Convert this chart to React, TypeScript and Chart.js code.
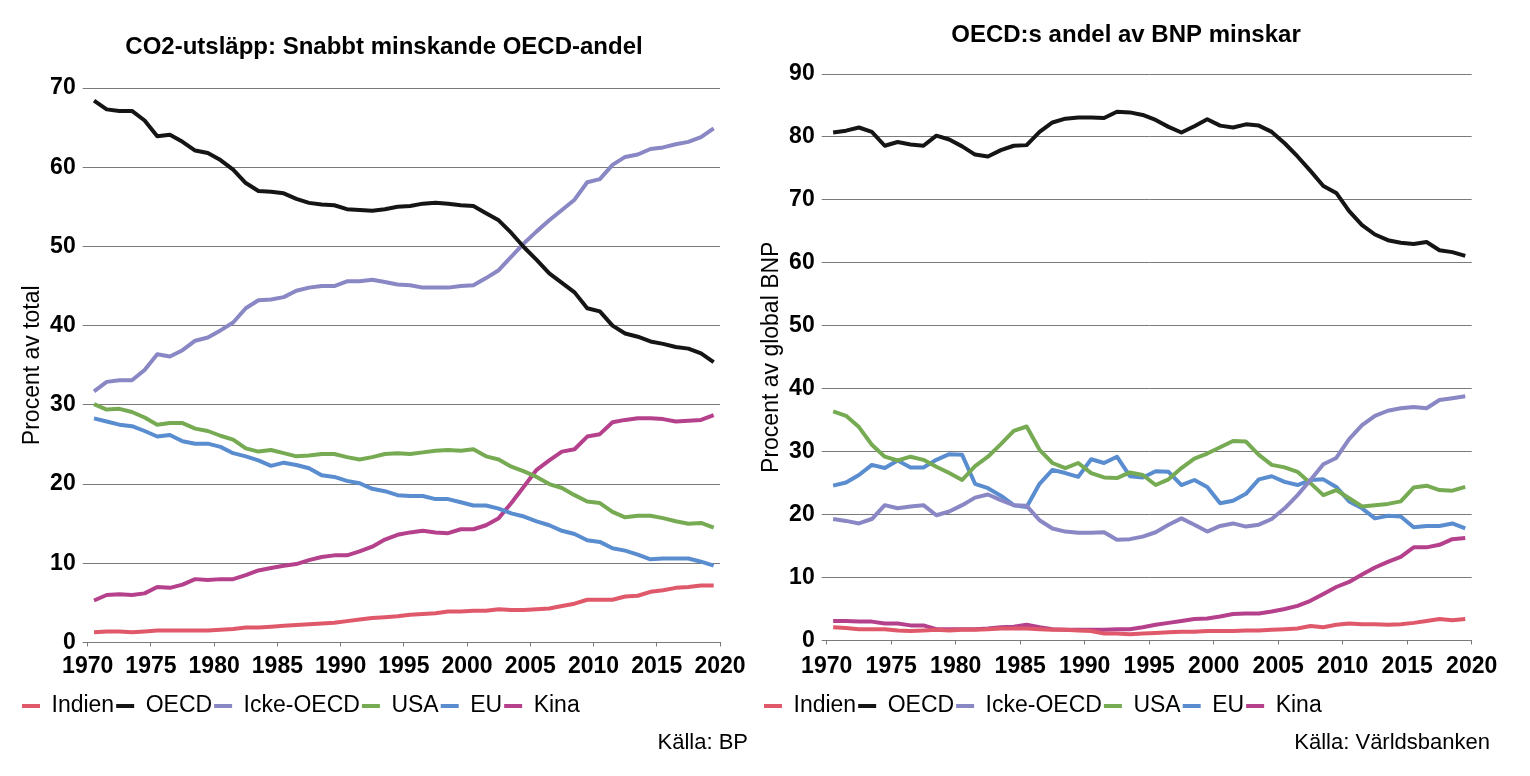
import React, { useEffect, useRef } from 'react';
import { Chart, registerables } from 'chart.js';

Chart.register(...registerables);

const years = [
  1970, 1971, 1972, 1973, 1974, 1975, 1976, 1977, 1978, 1979,
  1980, 1981, 1982, 1983, 1984, 1985, 1986, 1987, 1988, 1989,
  1990, 1991, 1992, 1993, 1994, 1995, 1996, 1997, 1998, 1999,
  2000, 2001, 2002, 2003, 2004, 2005, 2006, 2007, 2008, 2009,
  2010, 2011, 2012, 2013, 2014, 2015, 2016, 2017, 2018, 2019,
];

const seriesNames = ['Indien', 'OECD', 'Icke-OECD', 'USA', 'EU', 'Kina'];
const seriesColors = ['#e0596a', '#151515', '#8a87c5', '#77ab53', '#5a8dd0', '#b5408b'];

// CO2-utsläpp, andel av total (%)
const co2Indien = [1.3, 1.4, 1.4, 1.3, 1.4, 1.5, 1.5, 1.5, 1.5, 1.5, 1.6, 1.7, 1.9, 1.9, 2.0, 2.1, 2.2, 2.3, 2.4, 2.5, 2.7, 2.9, 3.1, 3.2, 3.3, 3.5, 3.6, 3.7, 3.9, 3.9, 4.0, 4.0, 4.2, 4.1, 4.1, 4.2, 4.3, 4.6, 4.9, 5.4, 5.4, 5.4, 5.8, 5.9, 6.4, 6.6, 6.9, 7.0, 7.2, 7.2];
const co2OECD = [68.4, 67.3, 67.1, 67.1, 65.9, 63.9, 64.1, 63.2, 62.1, 61.8, 60.9, 59.7, 58.0, 57.0, 56.9, 56.7, 56.0, 55.5, 55.3, 55.2, 54.7, 54.6, 54.5, 54.7, 55.0, 55.1, 55.4, 55.5, 55.4, 55.2, 55.1, 54.2, 53.3, 51.7, 49.9, 48.3, 46.6, 45.4, 44.2, 42.2, 41.8, 40.0, 39.0, 38.6, 38.0, 37.7, 37.3, 37.1, 36.5, 35.4];
const co2IckeOECD = [31.7, 32.9, 33.1, 33.1, 34.4, 36.4, 36.1, 36.9, 38.1, 38.5, 39.4, 40.4, 42.2, 43.2, 43.3, 43.6, 44.4, 44.8, 45.0, 45.0, 45.6, 45.6, 45.8, 45.5, 45.2, 45.1, 44.8, 44.8, 44.8, 45.0, 45.1, 46.0, 47.0, 48.7, 50.4, 51.9, 53.3, 54.6, 55.9, 58.1, 58.5, 60.3, 61.3, 61.6, 62.3, 62.5, 62.9, 63.2, 63.8, 64.9];
const co2USA = [30.1, 29.4, 29.5, 29.1, 28.4, 27.5, 27.7, 27.7, 27.0, 26.7, 26.1, 25.6, 24.5, 24.1, 24.3, 23.9, 23.5, 23.6, 23.8, 23.8, 23.4, 23.1, 23.4, 23.8, 23.9, 23.8, 24.0, 24.2, 24.3, 24.2, 24.4, 23.5, 23.1, 22.2, 21.6, 20.9, 20.0, 19.5, 18.6, 17.8, 17.6, 16.5, 15.8, 16.0, 16.0, 15.7, 15.3, 15.0, 15.1, 14.5];
const co2EU = [28.3, 27.9, 27.5, 27.3, 26.7, 26.0, 26.2, 25.4, 25.1, 25.1, 24.7, 23.9, 23.5, 23.0, 22.3, 22.7, 22.4, 22.0, 21.1, 20.9, 20.4, 20.1, 19.4, 19.1, 18.6, 18.5, 18.5, 18.1, 18.1, 17.7, 17.3, 17.3, 16.9, 16.3, 15.9, 15.3, 14.8, 14.1, 13.7, 12.9, 12.7, 11.9, 11.6, 11.1, 10.5, 10.6, 10.6, 10.6, 10.2, 9.7];
const co2Kina = [5.3, 6.0, 6.1, 6.0, 6.2, 7.0, 6.9, 7.3, 8.0, 7.9, 8.0, 8.0, 8.5, 9.1, 9.4, 9.7, 9.9, 10.4, 10.8, 11.0, 11.0, 11.5, 12.1, 13.0, 13.6, 13.9, 14.1, 13.9, 13.8, 14.3, 14.3, 14.8, 15.7, 17.6, 19.7, 21.8, 23.0, 24.1, 24.4, 26.0, 26.3, 27.8, 28.1, 28.3, 28.3, 28.2, 27.9, 28.0, 28.1, 28.7];

// Andel av global BNP (%)
const gdpIndien = [2.1, 2.0, 1.8, 1.8, 1.8, 1.6, 1.5, 1.6, 1.7, 1.6, 1.7, 1.7, 1.8, 1.9, 1.9, 1.9, 1.8, 1.7, 1.7, 1.6, 1.5, 1.1, 1.1, 1.0, 1.1, 1.2, 1.3, 1.4, 1.4, 1.5, 1.5, 1.5, 1.6, 1.6, 1.7, 1.8, 1.9, 2.3, 2.1, 2.5, 2.7, 2.6, 2.6, 2.5, 2.6, 2.8, 3.1, 3.4, 3.2, 3.4];
const gdpOECD = [80.7, 81.0, 81.5, 80.8, 78.6, 79.2, 78.8, 78.6, 80.2, 79.6, 78.5, 77.2, 76.9, 77.9, 78.6, 78.7, 80.8, 82.3, 82.9, 83.1, 83.1, 83.0, 84.0, 83.9, 83.5, 82.7, 81.6, 80.7, 81.7, 82.8, 81.8, 81.5, 82.0, 81.8, 80.8, 79.0, 76.9, 74.6, 72.2, 71.1, 68.2, 66.0, 64.5, 63.6, 63.2, 63.0, 63.3, 62.0, 61.7, 61.1];
const gdpIckeOECD = [19.3, 19.0, 18.6, 19.3, 21.5, 21.0, 21.3, 21.5, 19.9, 20.5, 21.5, 22.7, 23.2, 22.3, 21.5, 21.4, 19.1, 17.8, 17.3, 17.1, 17.1, 17.2, 16.0, 16.1, 16.5, 17.2, 18.4, 19.4, 18.4, 17.3, 18.2, 18.6, 18.1, 18.4, 19.3, 21.0, 23.1, 25.5, 28.0, 29.0, 32.0, 34.2, 35.7, 36.5, 36.9, 37.1, 36.9, 38.2, 38.5, 38.8];
const gdpUSA = [36.4, 35.7, 33.9, 31.1, 29.2, 28.6, 29.2, 28.7, 27.6, 26.6, 25.5, 27.7, 29.2, 31.2, 33.3, 34.0, 30.3, 28.2, 27.4, 28.2, 26.6, 25.9, 25.8, 26.7, 26.3, 24.7, 25.6, 27.4, 28.9, 29.7, 30.7, 31.7, 31.6, 29.5, 27.9, 27.5, 26.8, 25.0, 23.1, 23.9, 22.6, 21.3, 21.5, 21.7, 22.1, 24.3, 24.6, 23.9, 23.8, 24.4];
const gdpEU = [24.6, 25.1, 26.3, 27.9, 27.4, 28.6, 27.5, 27.5, 28.7, 29.6, 29.5, 24.9, 24.2, 23.0, 21.5, 21.2, 24.9, 27.1, 26.6, 26.0, 28.8, 28.2, 29.2, 26.1, 25.9, 26.9, 26.8, 24.7, 25.5, 24.4, 21.8, 22.2, 23.3, 25.6, 26.1, 25.2, 24.7, 25.5, 25.6, 24.4, 22.1, 21.0, 19.4, 19.8, 19.7, 18.0, 18.2, 18.2, 18.6, 17.8];
const gdpKina = [3.1, 3.1, 3.0, 3.0, 2.7, 2.7, 2.4, 2.4, 1.8, 1.8, 1.8, 1.8, 1.9, 2.1, 2.2, 2.5, 2.1, 1.8, 1.7, 1.7, 1.7, 1.7, 1.8, 1.8, 2.1, 2.5, 2.8, 3.1, 3.4, 3.5, 3.8, 4.2, 4.3, 4.3, 4.6, 5.0, 5.5, 6.3, 7.4, 8.5, 9.3, 10.5, 11.6, 12.5, 13.3, 14.8, 14.8, 15.2, 16.1, 16.3];

const FONT = "'Liberation Sans', Arial, Helvetica, sans-serif";
const GRID = '#7a7a7a';

type Spec = {
  title: string;
  yTitle: string;
  yMax: number;
  source: string;
  series: number[][];
  width: number;
  padLeft: number;
  padRight: number;
  yWidth: number;
  yTitlePad: number;
  xPadRight: number;
  titleTop: number;
  titleBottom: number;
  xHeight: number;
  xTickPad: number;
};

function makeConfig(s: Spec): any {
  const datasets = s.series.map((vals, i) => ({
    label: seriesNames[i],
    data: vals.map((v, j) => ({ x: years[j] + 0.5, y: v })),
    borderColor: seriesColors[i],
    backgroundColor: seriesColors[i],
    borderWidth: 4,
    pointRadius: 0,
    pointHoverRadius: 0,
    tension: 0,
    borderJoinStyle: 'round',
    borderCapStyle: 'butt',
    fill: false,
  }));
  return {
    type: 'line',
    data: { datasets },
    options: {
      responsive: false,
      animation: false,
      events: [],
      layout: { padding: { left: s.padLeft, right: s.padRight, top: 0, bottom: 0 } },
      plugins: {
        tooltip: { enabled: false },
        title: {
          display: true,
          text: s.title,
          color: '#000',
          font: { family: FONT, size: 24, weight: 'bold', lineHeight: 1.2 },
          padding: { top: s.titleTop, bottom: s.titleBottom },
        },
        subtitle: {
          display: true,
          text: s.source,
          position: 'bottom',
          align: 'end',
          color: '#000',
          font: { family: FONT, size: 22, weight: 'normal', lineHeight: 1.2 },
          padding: { top: 2.3, bottom: 19.8 },
        },
        legend: {
          display: true,
          position: 'bottom',
          align: 'start',
          labels: {
            usePointStyle: true,
            pointStyle: 'line',
            pointStyleWidth: 18,
            color: '#000',
            font: { family: FONT, size: 23, weight: 'normal' },
            padding: 2,
          },
        },
      },
      scales: {
        x: {
          type: 'linear',
          min: 1970,
          max: 2020,
          ticks: {
            stepSize: 5,
            autoSkip: false,
            maxRotation: 0,
            color: '#000',
            padding: s.xTickPad,
            font: { family: FONT, size: 23, weight: 'bold' },
            callback: (v: number) => String(v),
          },
          grid: { drawOnChartArea: false, drawTicks: true, tickLength: 4, color: GRID },
          border: { display: true, color: GRID },
          afterFit: (sc: any) => {
            sc.height = s.xHeight;
            sc.paddingLeft = 0;
            sc.paddingRight = s.xPadRight;
          },
        },
        y: {
          type: 'linear',
          min: 0,
          max: s.yMax,
          ticks: {
            stepSize: 10,
            color: '#000',
            padding: 7,
            font: { family: FONT, size: 23, weight: 'bold' },
          },
          grid: { color: GRID, drawTicks: true, tickLength: 5 },
          border: { display: false },
          title: {
            display: true,
            text: s.yTitle,
            color: '#000',
            font: { family: FONT, size: 23, weight: 'normal', lineHeight: 1.2 },
            padding: { top: s.yTitlePad, bottom: 0 },
          },
          afterFit: (sc: any) => {
            sc.width = s.yWidth;
            sc.paddingTop = 0;
            sc.paddingBottom = 0;
          },
        },
      },
    },
  };
}

function ChartCanvas({ spec, left }: { spec: Spec; left: number }) {
  const ref = useRef<HTMLCanvasElement | null>(null);
  useEffect(() => {
    if (!ref.current) return;
    const chart = new Chart(ref.current, makeConfig(spec));
    return () => chart.destroy();
  }, [spec]);
  return (
    <canvas
      ref={ref}
      width={spec.width}
      height={776}
      style={{ position: 'absolute', left, top: 0, width: spec.width, height: 776 }}
    />
  );
}

const leftSpec: Spec = {
  title: 'CO2-utsläpp: Snabbt minskande OECD-andel',
  yTitle: 'Procent av total',
  yMax: 70,
  source: 'Källa: BP',
  series: [co2Indien, co2OECD, co2IckeOECD, co2USA, co2EU, co2Kina],
  width: 750,
  padLeft: 20,
  padRight: 2,
  yWidth: 67.7,
  yTitlePad: -0.8,
  xPadRight: 30,
  titleTop: 32.6,
  titleBottom: 26.6,
  xHeight: 50,
  xTickPad: 6.5,
};

const rightSpec: Spec = {
  title: 'OECD:s andel av BNP minskar',
  yTitle: 'Procent av global BNP',
  yMax: 90,
  source: 'Källa: Världsbanken',
  series: [gdpIndien, gdpOECD, gdpIckeOECD, gdpUSA, gdpEU, gdpKina],
  width: 780,
  padLeft: 12,
  padRight: 40,
  yWidth: 64.7,
  yTitlePad: -3.8,
  xPadRight: 58.3,
  titleTop: 20.6,
  titleBottom: 24.6,
  xHeight: 52,
  xTickPad: 8.5,
};

export default function App() {
  return (
    <div style={{ position: 'fixed', left: 0, top: 0, width: 1530, height: 776, background: '#fff', overflow: 'hidden' }}>
      <ChartCanvas spec={leftSpec} left={0} />
      <ChartCanvas spec={rightSpec} left={750} />
    </div>
  );
}
